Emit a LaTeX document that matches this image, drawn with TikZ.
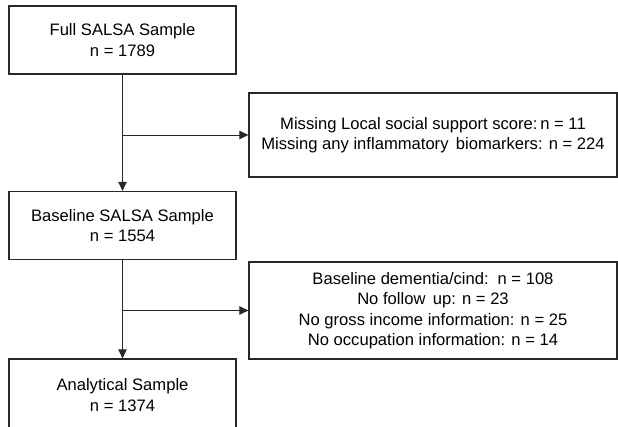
\documentclass[tikz,border=0pt]{standalone}
\usepackage{fontspec}
\setmainfont{Liberation Sans}
\usetikzlibrary{arrows.meta}
\definecolor{boxline}{RGB}{40,40,40}
\tikzset{
  fc/.style={draw=boxline, line width=1.3pt, fill=white, align=center,
    font=\fontsize{16.6}{20.5}\selectfont, inner sep=2pt},
  stage/.style={fc, rectangle, minimum width=227pt, minimum height=68pt},
  drop/.style={fc, rectangle, minimum width=368pt},
  arr/.style={-{Triangle[length=9pt, width=8.5pt]}, line width=0.8pt, draw=boxline},
}
\begin{document}
\begin{tikzpicture}[x=1pt, y=-1pt]
      \useasboundingbox (0,0) rectangle (618,427);
      % the main stages
      \node[stage] (full)  at (122.5,40)  {Full SALSA Sample\\n = 1789};
      \node[stage] (base)  at (122.5,225.5) {Baseline SALSA Sample\\n = 1554};
      \node[stage, minimum height=72pt] (anal) at (122.5,395) {Analytical Sample\\n = 1374};
      % the exclusions
      \node[drop, minimum height=84pt] (miss) at (433,135)
        {Missing Local social support score:\,n = 11\\Missing any inflammatory\, biomarkers: n = 224};
      \node[drop, minimum height=97pt] (excl) at (433,310.5)
        {Baseline dementia/cind:\, n = 108\\No follow\, up: n = 23\\No gross income information: n = 25\\No occupation information: n = 14};

      \coordinate (j1) at (full.south |- miss.west);
      \coordinate (j2) at (base.south |- excl.west);
      \draw[arr] (full) -- (base);
      \draw[arr] (base) -- (anal);
      \draw[arr] (j1) -- (miss.west);
      \draw[arr] (j2) -- (excl.west);
\end{tikzpicture}
\end{document}
